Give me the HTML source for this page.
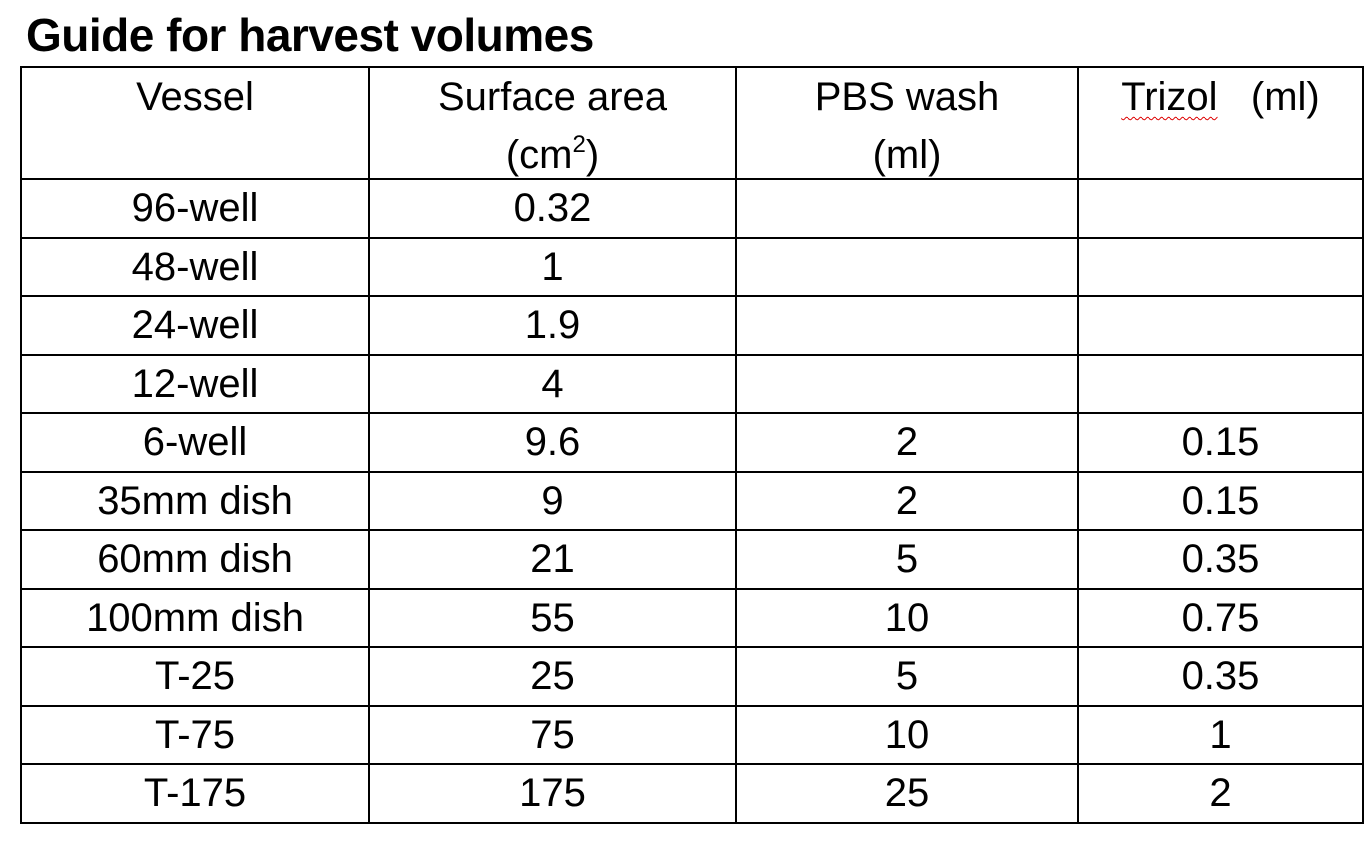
<!DOCTYPE html>
<html><head><meta charset="utf-8"><style>
body{margin:0;width:1368px;height:844px;background:#fff;font-family:"Liberation Sans",sans-serif;color:#000;position:relative;overflow:hidden}
h1{position:absolute;left:26px;top:8px;margin:0;font-size:46px;font-weight:bold;letter-spacing:-0.5px;line-height:54px}
table{position:absolute;left:20px;top:66px;border-collapse:collapse;font-size:40px}
td{border:2px solid #000;text-align:center;padding:0;height:56.5px;line-height:40px}
tr.h td{height:110px;vertical-align:top;line-height:58px;padding-top:0}
tr.h td div{height:110px;overflow:visible}
sup{font-size:24px;line-height:0;vertical-align:baseline;position:relative;top:-16px}
.w{text-decoration:underline wavy #d00;text-decoration-thickness:1px;text-underline-offset:6px}
</style></head><body>
<h1>Guide for harvest volumes</h1>
<table>
<colgroup><col style="width:348px"><col style="width:367px"><col style="width:342px"><col style="width:285px"></colgroup>
<tr class="h">
<td><div>Vessel</div></td>
<td><div>Surface area<br>(cm<sup>2</sup>)</div></td>
<td><div>PBS wash<br>(ml)</div></td>
<td><div><span class="w">Trizol</span>&nbsp;&nbsp; (ml)</div></td></tr>
<tr><td>96-well</td><td>0.32</td><td></td><td></td></tr>
<tr><td>48-well</td><td>1</td><td></td><td></td></tr>
<tr><td>24-well</td><td>1.9</td><td></td><td></td></tr>
<tr><td>12-well</td><td>4</td><td></td><td></td></tr>
<tr><td>6-well</td><td>9.6</td><td>2</td><td>0.15</td></tr>
<tr><td>35mm dish</td><td>9</td><td>2</td><td>0.15</td></tr>
<tr><td>60mm dish</td><td>21</td><td>5</td><td>0.35</td></tr>
<tr><td>100mm dish</td><td>55</td><td>10</td><td>0.75</td></tr>
<tr><td>T-25</td><td>25</td><td>5</td><td>0.35</td></tr>
<tr><td>T-75</td><td>75</td><td>10</td><td>1</td></tr>
<tr><td>T-175</td><td>175</td><td>25</td><td>2</td></tr>
</table>
</body></html>
